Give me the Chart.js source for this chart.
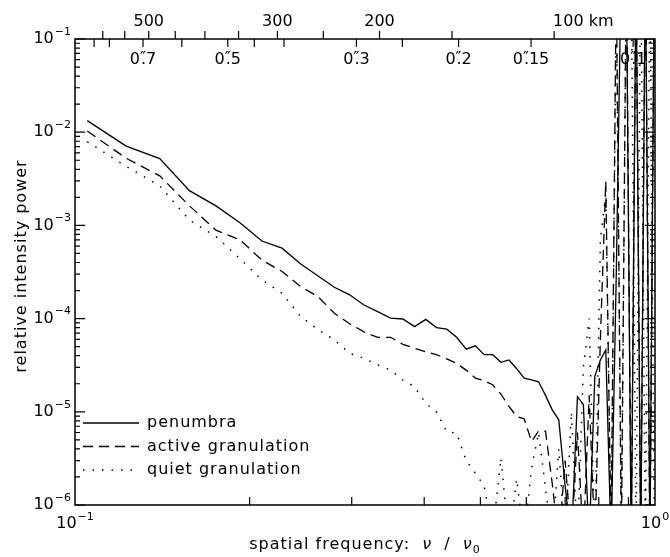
<!DOCTYPE html>
<html>
  <head>
    <meta charset="utf-8">
    <style>
      html, body { margin: 0; padding: 0; background: #fff; }
      canvas { display: block; }
    </style>
  </head>
  <body>
    <canvas id="chart-area" width="670" height="557"></canvas>

    <script src="https://cdn.jsdelivr.net/npm/chart.js@4/dist/chart.umd.min.js"></script>
    <script>
        // spatial frequency nu / nu0 of each bin
        var freq = [0.105, 0.1225, 0.14, 0.1575, 0.175, 0.1925, 0.21, 0.2275, 0.245, 0.2625,
                    0.28, 0.2975, 0.315, 0.3325, 0.35, 0.3675, 0.385, 0.4025, 0.42, 0.4375,
                    0.455, 0.4725, 0.49, 0.5075, 0.525, 0.5425, 0.56, 0.5775, 0.595, 0.6125,
                    0.63, 0.6475, 0.665, 0.6825, 0.70, 0.7175, 0.735, 0.7525, 0.77, 0.7875,
                    0.805, 0.8225, 0.84, 0.8575, 0.875, 0.8925, 0.91, 0.9275, 0.945, 0.9625,
                    0.98, 0.9975];

        var penumbra = [1.33e-2, 7.1e-3, 5.2e-3, 2.36e-3, 1.62e-3, 1.07e-3, 6.8e-4, 5.7e-4, 3.85e-4, 2.86e-4,
                        2.17e-4, 1.8e-4, 1.4e-4, 1.19e-4, 1.01e-4, 9.9e-5, 8.2e-5, 9.8e-5, 8.0e-5, 7.7e-5,
                        6.3e-5, 4.7e-5, 5.1e-5, 4.1e-5, 4.1e-5, 3.4e-5, 3.6e-5, 2.9e-5, 2.3e-5, 2.2e-5,
                        2.1e-5, 1.5e-5, 1.05e-5, 8.2e-6, 1.6e-6, 4e-7, 1.45e-5, 1.2e-5, 4e-7, 2.4e-5,
                        3.6e-5, 4.6e-5, 4e-7, 3e-4, 0.8, 0.5, 3e-7, 0.6, 3e-7, 0.9,
                        4e-7, 0.7];

        var activeGran = [1.03e-2, 5.25e-3, 3.4e-3, 1.62e-3, 8.9e-4, 7.0e-4, 4.25e-4, 3.2e-4, 2.2e-4, 1.72e-4,
                          1.14e-4, 8.8e-5, 7.2e-5, 6.3e-5, 6.3e-5, 5.3e-5, 4.8e-5, 4.4e-5, 4.1e-5, 3.7e-5,
                          3.3e-5, 2.8e-5, 2.3e-5, 2.16e-5, 1.95e-5, 1.55e-5, 1.14e-5, 8.9e-6, 8.4e-6, 4.8e-6,
                          6.2e-6, 6.2e-6, 1.7e-6, 4e-7, 3e-6, 4e-7, 6e-6, 4e-7, 1.5e-5, 4e-7,
                          6e-5, 3e-3, 4e-7, 0.5, 4e-7, 0.8, 4e-7, 0.7, 4e-7, 0.9,
                          3e-7, 0.6];

        var quietGran = [7.9e-3, 4.3e-3, 2.65e-3, 1.14e-3, 7.6e-4, 4.4e-4, 2.6e-4, 1.87e-4, 1.05e-4, 7.6e-5,
                         5.9e-5, 4.25e-5, 3.75e-5, 3.2e-5, 2.8e-5, 2.2e-5, 1.86e-5, 1.23e-5, 1.0e-5, 6.1e-6,
                         5.9e-6, 3.0e-6, 2.2e-6, 1.6e-6, 5e-7, 3.2e-6, 4e-7, 1.9e-6, 4e-7, 2.5e-6,
                         6e-6, 1.5e-6, 4e-7, 4e-6, 4e-7, 1e-5, 4e-7, 3e-5, 1e-4, 4e-7,
                         7e-4, 2.2e-3, 4e-7, 0.3, 4e-7, 0.7, 0.5, 4e-7, 0.8, 4e-7,
                         0.6, 4e-7];

        var seriesNames = ['penumbra', 'active granulation', 'quiet granulation'];

        // top axis: length scale in km and in arcsec (nu/nu0 = 67/km = 0.0917/arcsec)
        var kmTicks = [600, 550, 500, 450, 400, 350, 300, 250, 200, 150, 100];
        var kmLabels = [500, 300, 200, 100];
        var arcTicks = [0.85, 0.8, 0.7, 0.6, 0.5, 0.45, 0.4, 0.3, 0.25, 0.2, 0.15, 0.1];
        var arcLabels = ['7', '5', '3', '2', '15', '1'];
        var arcLabelValues = [0.7, 0.5, 0.3, 0.2, 0.15, 0.1];
        var kmPerNu = 67, arcPerNu = 0.0917;

        var FONT = '"DejaVu Sans", sans-serif';

        function pts(vals) {
            return vals.map(function(v, i) { return {x: freq[i], y: v}; });
        }

        function powLabel(ctx, exp, x, y, align) {
            ctx.font = '16px ' + FONT;
            var wb = ctx.measureText('10').width;
            ctx.font = '11px ' + FONT;
            var we = ctx.measureText(exp).width;
            var total = wb + 1 + we;
            var left = x;
            if (align === 'right') left = x - total;
            if (align === 'center') left = x - total / 2;
            ctx.textAlign = 'left';
            ctx.textBaseline = 'middle';
            ctx.font = '16px ' + FONT;
            ctx.fillText('10', left, y);
            ctx.font = '11px ' + FONT;
            ctx.fillText(exp, left + wb + 1, y - 7);
        }

        // 0"7 style label, dot under the double prime
        function arcLabel(ctx, digits, cx, y) {
            ctx.font = '16px ' + FONT;
            ctx.textBaseline = 'middle';
            ctx.textAlign = 'left';
            var w0 = ctx.measureText('0').width;
            var wp = ctx.measureText('\u2033').width;
            var wd = ctx.measureText(digits).width;
            var left = cx - (w0 + wp + wd) / 2;
            ctx.fillText('0', left, y);
            ctx.fillText('\u2033', left + w0, y - 1);
            ctx.fillText('.', left + w0 + wp / 2 - 2, y);
            ctx.fillText(digits, left + w0 + wp, y);
        }

        var axesPlugin = {
            id: 'axesPlugin',
            beforeDatasetsDraw: function(chart) {
                var ctx = chart.ctx, xs = chart.scales.x, a = chart.chartArea;
                ctx.save();
                ctx.fillStyle = '#000';
                for (var i = 0; i < arcLabels.length; i++) {
                    arcLabel(ctx, arcLabels[i], xs.getPixelForValue(arcPerNu / arcLabelValues[i]), a.top + 21);
                }
                ctx.restore();
            },
            afterDatasetsDraw: function(chart) {
                var ctx = chart.ctx, xs = chart.scales.x, ys = chart.scales.y, a = chart.chartArea;
                ctx.save();
                ctx.strokeStyle = '#000';
                ctx.fillStyle = '#000';
                ctx.lineWidth = 1.5;
                ctx.strokeRect(a.left, a.top, a.right - a.left, a.bottom - a.top);

                ctx.lineWidth = 1.2;
                ctx.beginPath();
                // y ticks, both sides, pointing inward
                for (var d = -6; d <= -1; d++) {
                    for (var m = 1; m <= 9; m++) {
                        if (d === -1 && m > 1) break;
                        var py = ys.getPixelForValue(m * Math.pow(10, d));
                        var len = m === 1 ? 10 : 5;
                        ctx.moveTo(a.left, py); ctx.lineTo(a.left + len, py);
                        ctx.moveTo(a.right, py); ctx.lineTo(a.right - len, py);
                    }
                }
                // bottom ticks
                for (var k = 2; k <= 9; k++) {
                    var px = xs.getPixelForValue(k / 10);
                    ctx.moveTo(px, a.bottom); ctx.lineTo(px, a.bottom - 8);
                }
                // top axis: km ticks up, arcsec ticks down
                kmTicks.forEach(function(km) {
                    var px = xs.getPixelForValue(kmPerNu / km);
                    ctx.moveTo(px, a.top); ctx.lineTo(px, a.top - 8);
                });
                arcTicks.forEach(function(s) {
                    var px = xs.getPixelForValue(arcPerNu / s);
                    ctx.moveTo(px, a.top); ctx.lineTo(px, a.top + 8);
                });
                ctx.stroke();

                // tick labels
                for (var e = -6; e <= -1; e++) {
                    powLabel(ctx, '\u2212' + (-e), a.left - 4, ys.getPixelForValue(Math.pow(10, e)), 'right');
                }
                powLabel(ctx, '\u22121', xs.getPixelForValue(0.1), a.bottom + 19, 'center');
                powLabel(ctx, '0', xs.getPixelForValue(1), a.bottom + 19, 'center');

                ctx.font = '16px ' + FONT;
                ctx.textBaseline = 'middle';
                kmLabels.forEach(function(km) {
                    var px = xs.getPixelForValue(kmPerNu / km);
                    if (km === 100) {
                        ctx.textAlign = 'left';
                        ctx.fillText('100 km', px - 1, 22);
                    } else {
                        ctx.textAlign = 'center';
                        ctx.fillText(String(km), px, 22);
                    }
                });

                // axis titles
                ctx.letterSpacing = '1px';
                ctx.save();
                ctx.translate(22, 266);
                ctx.rotate(-Math.PI / 2);
                ctx.textAlign = 'center';
                ctx.fillText('relative intensity power', 0, 0);
                ctx.restore();

                var parts = [
                    {t: 'spatial frequency:  ', f: '16px ' + FONT, dy: 0},
                    {t: '\u03bd', f: 'italic 16px ' + FONT, dy: 0},
                    {t: '  /  ', f: '16px ' + FONT, dy: 0},
                    {t: '\u03bd', f: 'italic 16px ' + FONT, dy: 0},
                    {t: '0', f: '11px ' + FONT, dy: 5}
                ];
                var tw = 0;
                parts.forEach(function(p) { ctx.font = p.f; p.w = ctx.measureText(p.t).width; tw += p.w; });
                var cx = (a.left + a.right) / 2 - tw / 2;
                ctx.textAlign = 'left';
                parts.forEach(function(p) { ctx.font = p.f; ctx.fillText(p.t, cx, 545 + p.dy); cx += p.w; });

                // legend
                ctx.font = '16px ' + FONT;
                chart.data.datasets.forEach(function(ds, i) {
                    var ly = 423 + i * 23.5;
                    ctx.save();
                    ctx.lineWidth = ds.borderWidth;
                    ctx.setLineDash(ds.borderDash || []);
                    ctx.beginPath();
                    ctx.moveTo(a.left + 8, ly);
                    ctx.lineTo(a.left + 64, ly);
                    ctx.stroke();
                    ctx.restore();
                    ctx.fillText(ds.label, a.left + 72, ly);
                });
                ctx.restore();
            }
        };

        var ctx = document.getElementById('chart-area').getContext('2d');
        var chart = new Chart(ctx, {
            type: 'line',
            data: {
                datasets: [{
                    label: seriesNames[0],
                    data: pts(penumbra),
                    borderColor: '#000',
                    borderWidth: 1.3,
                    borderDash: []
                }, {
                    label: seriesNames[1],
                    data: pts(activeGran),
                    borderColor: '#000',
                    borderWidth: 1.3,
                    borderDash: [10, 6]
                }, {
                    label: seriesNames[2],
                    data: pts(quietGran),
                    borderColor: '#000',
                    borderWidth: 1.5,
                    borderDash: [1.5, 8]
                }]
            },
            options: {
                responsive: false,
                animation: false,
                devicePixelRatio: 1,
                layout: { padding: { left: 75, top: 39, right: 15, bottom: 52 } },
                elements: { point: { radius: 0 }, line: { tension: 0 } },
                plugins: { legend: { display: false }, tooltip: { enabled: false } },
                scales: {
                    x: { type: 'logarithmic', min: 0.1, max: 1, display: false },
                    y: { type: 'logarithmic', min: 1e-6, max: 0.1, display: false }
                }
            },
            plugins: [axesPlugin]
        });
    </script>
  </body>
</html>
